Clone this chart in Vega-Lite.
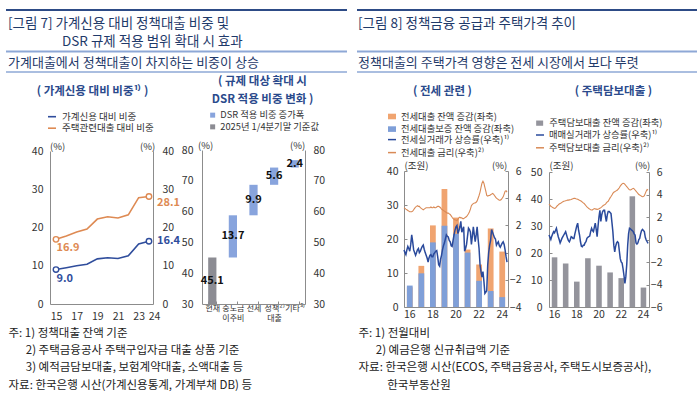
{
  "$schema": "https://vega.github.io/schema/vega-lite/v6.json",
  "background": "white",
  "padding": 0,
  "spacing": 0,
  "bounds": "flush",
  "resolve": {
    "scale": {"fill": "independent", "stroke": "independent", "color": "independent"},
    "legend": {"fill": "independent", "stroke": "independent", "color": "independent"}
  },
  "config": {
    "font": "Noto Sans CJK KR",
    "view": {"stroke": null},
    "axis": {"labelColor": "#333333", "domainColor": "#8c8c8c", "tickColor": "#8c8c8c", "grid": false, "labelFontSize": 10.5, "titleFontWeight": "normal", "titleColor": "#333333", "labelFlush": false},
    "legend": {"labelColor": "#333333", "padding": 0, "labelFontSize": 9.5, "rowPadding": 1.5, "labelOffset": 4, "titlePadding": 0}
  },
  "datasets": {
    "p1": [
      {"year": 2015, "series": "가계신용 대비 비중", "value": 9.0},
      {"year": 2016, "series": "가계신용 대비 비중", "value": 9.5},
      {"year": 2017, "series": "가계신용 대비 비중", "value": 10.0},
      {"year": 2018, "series": "가계신용 대비 비중", "value": 10.4},
      {"year": 2019, "series": "가계신용 대비 비중", "value": 11.8},
      {"year": 2020, "series": "가계신용 대비 비중", "value": 12.1},
      {"year": 2021, "series": "가계신용 대비 비중", "value": 11.9},
      {"year": 2022, "series": "가계신용 대비 비중", "value": 12.6},
      {"year": 2023, "series": "가계신용 대비 비중", "value": 15.7},
      {"year": 2024, "series": "가계신용 대비 비중", "value": 16.4},
      {"year": 2015, "series": "주택관련대출 대비 비중", "value": 16.9},
      {"year": 2016, "series": "주택관련대출 대비 비중", "value": 17.8},
      {"year": 2017, "series": "주택관련대출 대비 비중", "value": 18.8},
      {"year": 2018, "series": "주택관련대출 대비 비중", "value": 19.6},
      {"year": 2019, "series": "주택관련대출 대비 비중", "value": 22.2},
      {"year": 2020, "series": "주택관련대출 대비 비중", "value": 22.8},
      {"year": 2021, "series": "주택관련대출 대비 비중", "value": 22.5},
      {"year": 2022, "series": "주택관련대출 대비 비중", "value": 23.3},
      {"year": 2023, "series": "주택관련대출 대비 비중", "value": 27.8},
      {"year": 2024, "series": "주택관련대출 대비 비중", "value": 28.1}
    ],
    "p2": [
      {"cat": "현재", "kind": "2025년 1/4분기말 기준값", "start": 30, "end": 45.1, "delta": 45.1},
      {"cat": "중도금 이주비", "kind": "DSR 적용 비중 증가폭", "start": 45.1, "end": 58.8, "delta": 13.7},
      {"cat": "전세", "kind": "DSR 적용 비중 증가폭", "start": 58.8, "end": 68.7, "delta": 9.9},
      {"cat": "정책²⁾ 대출", "kind": "DSR 적용 비중 증가폭", "start": 68.7, "end": 74.3, "delta": 5.6},
      {"cat": "기타³⁾", "kind": "DSR 적용 비중 증가폭", "start": 74.3, "end": 76.7, "delta": 2.4}
    ],
    "p3bars": [
      {"year": 2016, "kind": "전세대출 잔액 증감(좌축)", "value": 5.8},
      {"year": 2017, "kind": "전세대출 잔액 증감(좌축)", "value": 12.1},
      {"year": 2018, "kind": "전세대출 잔액 증감(좌축)", "value": 24.0},
      {"year": 2019, "kind": "전세대출 잔액 증감(좌축)", "value": 34.7},
      {"year": 2020, "kind": "전세대출 잔액 증감(좌축)", "value": 26.3},
      {"year": 2021, "kind": "전세대출 잔액 증감(좌축)", "value": 16.9},
      {"year": 2022, "kind": "전세대출 잔액 증감(좌축)", "value": 12.5},
      {"year": 2023, "kind": "전세대출 잔액 증감(좌축)", "value": 23.1},
      {"year": 2024, "kind": "전세대출 잔액 증감(좌축)", "value": 16.3},
      {"year": 2016, "kind": "전세대출보증 잔액 증감(좌축)", "value": 6.3},
      {"year": 2017, "kind": "전세대출보증 잔액 증감(좌축)", "value": 9.9},
      {"year": 2018, "kind": "전세대출보증 잔액 증감(좌축)", "value": 19.0},
      {"year": 2019, "kind": "전세대출보증 잔액 증감(좌축)", "value": 23.9},
      {"year": 2020, "kind": "전세대출보증 잔액 증감(좌축)", "value": 21.5},
      {"year": 2021, "kind": "전세대출보증 잔액 증감(좌축)", "value": 16.0},
      {"year": 2022, "kind": "전세대출보증 잔액 증감(좌축)", "value": 7.7},
      {"year": 2023, "kind": "전세대출보증 잔액 증감(좌축)", "value": 4.7},
      {"year": 2024, "kind": "전세대출보증 잔액 증감(좌축)", "value": 2.9}
    ],
    "p4bars": [
      {"year": 2016, "kind": "주택담보대출 잔액 증감(좌축)", "value": 18.4},
      {"year": 2017, "kind": "주택담보대출 잔액 증감(좌축)", "value": 16.1},
      {"year": 2018, "kind": "주택담보대출 잔액 증감(좌축)", "value": 9.4},
      {"year": 2019, "kind": "주택담보대출 잔액 증감(좌축)", "value": 18.1},
      {"year": 2020, "kind": "주택담보대출 잔액 증감(좌축)", "value": 15.3},
      {"year": 2021, "kind": "주택담보대출 잔액 증감(좌축)", "value": 12.8},
      {"year": 2022, "kind": "주택담보대출 잔액 증감(좌축)", "value": 10.7},
      {"year": 2023, "kind": "주택담보대출 잔액 증감(좌축)", "value": 41.0},
      {"year": 2024, "kind": "주택담보대출 잔액 증감(좌축)", "value": 7.2}
    ],
    "p3lines": [
      {"d": "2016-01", "p": 0.2, "r": 3.3}, {"d": "2016-02", "p": 0.0, "r": 3.25}, {"d": "2016-03", "p": -0.15, "r": 3.2}, {"d": "2016-04", "p": 0.2, "r": 3.15}, {"d": "2016-05", "p": 0.45, "r": 3.1}, {"d": "2016-06", "p": 0.3, "r": 3.05}, {"d": "2016-07", "p": 0.1, "r": 3.0}, {"d": "2016-08", "p": 0.6, "r": 3.0}, {"d": "2016-09", "p": 1.3, "r": 3.0}, {"d": "2016-10", "p": 0.8, "r": 3.05}, {"d": "2016-11", "p": 0.2, "r": 3.15}, {"d": "2016-12", "p": 0.0, "r": 3.25},
      {"d": "2017-01", "p": -0.2, "r": 3.35}, {"d": "2017-02", "p": 0.0, "r": 3.4}, {"d": "2017-03", "p": 0.2, "r": 3.45}, {"d": "2017-04", "p": 0.3, "r": 3.4}, {"d": "2017-05", "p": 0.0, "r": 3.4}, {"d": "2017-06", "p": 0.1, "r": 3.3}, {"d": "2017-07", "p": 0.3, "r": 3.25}, {"d": "2017-08", "p": 0.45, "r": 3.2}, {"d": "2017-09", "p": 0.55, "r": 3.15}, {"d": "2017-10", "p": 0.25, "r": 3.2}, {"d": "2017-11", "p": 0.0, "r": 3.25}, {"d": "2017-12", "p": -0.2, "r": 3.3},
      {"d": "2018-01", "p": -0.4, "r": 3.3}, {"d": "2018-02", "p": -0.7, "r": 3.3}, {"d": "2018-03", "p": -0.4, "r": 3.3}, {"d": "2018-04", "p": -0.2, "r": 3.3}, {"d": "2018-05", "p": -0.15, "r": 3.35}, {"d": "2018-06", "p": -0.3, "r": 3.3}, {"d": "2018-07", "p": -0.3, "r": 3.3}, {"d": "2018-08", "p": -0.1, "r": 3.35}, {"d": "2018-09", "p": 0.0, "r": 3.3}, {"d": "2018-10", "p": 0.1, "r": 3.3}, {"d": "2018-11", "p": 0.15, "r": 3.35}, {"d": "2018-12", "p": -0.3, "r": 3.4},
      {"d": "2019-01", "p": -0.9, "r": 3.4}, {"d": "2019-02", "p": -1.0, "r": 3.35}, {"d": "2019-03", "p": -0.5, "r": 3.3}, {"d": "2019-04", "p": -0.2, "r": 3.2}, {"d": "2019-05", "p": 0.2, "r": 3.15}, {"d": "2019-06", "p": 0.5, "r": 3.1}, {"d": "2019-07", "p": 0.7, "r": 3.05}, {"d": "2019-08", "p": 1.0, "r": 3.0}, {"d": "2019-09", "p": 1.3, "r": 2.95}, {"d": "2019-10", "p": 1.2, "r": 2.9}, {"d": "2019-11", "p": 1.15, "r": 2.9}, {"d": "2019-12", "p": 0.9, "r": 2.85},
      {"d": "2020-01", "p": 0.8, "r": 2.8}, {"d": "2020-02", "p": 0.5, "r": 2.7}, {"d": "2020-03", "p": 0.45, "r": 2.6}, {"d": "2020-04", "p": 0.9, "r": 2.5}, {"d": "2020-05", "p": 1.3, "r": 2.45}, {"d": "2020-06", "p": 1.65, "r": 2.4}, {"d": "2020-07", "p": 1.9, "r": 2.4}, {"d": "2020-08", "p": 2.0, "r": 2.35}, {"d": "2020-09", "p": 1.4, "r": 2.45}, {"d": "2020-10", "p": 1.6, "r": 2.55}, {"d": "2020-11", "p": 1.9, "r": 2.6}, {"d": "2020-12", "p": 2.3, "r": 2.55},
      {"d": "2021-01", "p": 1.5, "r": 2.55}, {"d": "2021-02", "p": 1.7, "r": 2.5}, {"d": "2021-03", "p": 1.9, "r": 2.5}, {"d": "2021-04", "p": 0.1, "r": 2.55}, {"d": "2021-05", "p": 0.3, "r": 2.6}, {"d": "2021-06", "p": 0.6, "r": 2.65}, {"d": "2021-07", "p": 1.2, "r": 2.75}, {"d": "2021-08", "p": 1.8, "r": 2.85}, {"d": "2021-09", "p": 1.7, "r": 3.0}, {"d": "2021-10", "p": 1.5, "r": 3.2}, {"d": "2021-11", "p": 0.6, "r": 3.45}, {"d": "2021-12", "p": 1.2, "r": 3.55},
      {"d": "2022-01", "p": 1.9, "r": 3.6}, {"d": "2022-02", "p": 1.3, "r": 3.65}, {"d": "2022-03", "p": 0.8, "r": 3.65}, {"d": "2022-04", "p": 1.3, "r": 3.7}, {"d": "2022-05", "p": 1.9, "r": 3.8}, {"d": "2022-06", "p": 1.0, "r": 4.0}, {"d": "2022-07", "p": 0.3, "r": 4.2}, {"d": "2022-08", "p": -0.9, "r": 4.45}, {"d": "2022-09", "p": -1.4, "r": 4.8}, {"d": "2022-10", "p": -1.8, "r": 5.1}, {"d": "2022-11", "p": -1.4, "r": 5.25}, {"d": "2022-12", "p": -2.1, "r": 5.1},
      {"d": "2023-01", "p": -3.0, "r": 4.8}, {"d": "2023-02", "p": -2.9, "r": 4.5}, {"d": "2023-03", "p": -2.8, "r": 4.2}, {"d": "2023-04", "p": -0.9, "r": 4.15}, {"d": "2023-05", "p": 0.0, "r": 4.2}, {"d": "2023-06", "p": 0.55, "r": 4.2}, {"d": "2023-07", "p": 0.9, "r": 4.25}, {"d": "2023-08", "p": 1.7, "r": 4.3}, {"d": "2023-09", "p": 1.5, "r": 4.35}, {"d": "2023-10", "p": 1.3, "r": 4.3}, {"d": "2023-11", "p": 1.1, "r": 4.2}, {"d": "2023-12", "p": 1.0, "r": 4.1},
      {"d": "2024-01", "p": 0.55, "r": 4.0}, {"d": "2024-02", "p": 0.7, "r": 3.95}, {"d": "2024-03", "p": 0.8, "r": 3.9}, {"d": "2024-04", "p": 0.5, "r": 3.85}, {"d": "2024-05", "p": 0.4, "r": 3.85}, {"d": "2024-06", "p": 0.55, "r": 3.9}, {"d": "2024-07", "p": 0.7, "r": 4.0}, {"d": "2024-08", "p": 0.8, "r": 4.1}, {"d": "2024-09", "p": 0.6, "r": 4.3}, {"d": "2024-10", "p": 0.2, "r": 4.5}, {"d": "2024-11", "p": -0.3, "r": 4.55}, {"d": "2024-12", "p": -0.7, "r": 4.45}
    ],
    "p4lines": [
      {"d": "2016-01", "p": 0.4, "r": 3.15}, {"d": "2016-02", "p": 0.2, "r": 3.05}, {"d": "2016-03", "p": 0.0, "r": 2.95}, {"d": "2016-04", "p": 0.3, "r": 2.9}, {"d": "2016-05", "p": 0.5, "r": 2.85}, {"d": "2016-06", "p": 0.7, "r": 2.8}, {"d": "2016-07", "p": 0.6, "r": 2.77}, {"d": "2016-08", "p": 0.8, "r": 2.8}, {"d": "2016-09", "p": 1.0, "r": 2.9}, {"d": "2016-10", "p": 0.6, "r": 3.0}, {"d": "2016-11", "p": 0.25, "r": 3.07}, {"d": "2016-12", "p": 0.0, "r": 3.15},
      {"d": "2017-01", "p": -0.3, "r": 3.2}, {"d": "2017-02", "p": -0.1, "r": 3.25}, {"d": "2017-03", "p": 0.1, "r": 3.3}, {"d": "2017-04", "p": 0.25, "r": 3.35}, {"d": "2017-05", "p": 0.4, "r": 3.4}, {"d": "2017-06", "p": 0.55, "r": 3.42}, {"d": "2017-07", "p": 0.7, "r": 3.45}, {"d": "2017-08", "p": 0.4, "r": 3.47}, {"d": "2017-09", "p": 0.1, "r": 3.5}, {"d": "2017-10", "p": -0.1, "r": 3.5}, {"d": "2017-11", "p": -0.2, "r": 3.52}, {"d": "2017-12", "p": 0.0, "r": 3.54},
      {"d": "2018-01", "p": 0.25, "r": 3.55}, {"d": "2018-02", "p": 0.2, "r": 3.6}, {"d": "2018-03", "p": 0.1, "r": 3.63}, {"d": "2018-04", "p": 0.1, "r": 3.66}, {"d": "2018-05", "p": 0.5, "r": 3.66}, {"d": "2018-06", "p": 0.85, "r": 3.62}, {"d": "2018-07", "p": 1.2, "r": 3.6}, {"d": "2018-08", "p": 1.45, "r": 3.57}, {"d": "2018-09", "p": 0.8, "r": 3.53}, {"d": "2018-10", "p": 0.4, "r": 3.48}, {"d": "2018-11", "p": -0.2, "r": 3.45}, {"d": "2018-12", "p": -0.6, "r": 3.4},
      {"d": "2019-01", "p": -0.65, "r": 3.33}, {"d": "2019-02", "p": -0.5, "r": 3.25}, {"d": "2019-03", "p": -0.5, "r": 3.2}, {"d": "2019-04", "p": -0.3, "r": 3.1}, {"d": "2019-05", "p": -0.2, "r": 3.0}, {"d": "2019-06", "p": 0.1, "r": 2.9}, {"d": "2019-07", "p": 0.2, "r": 2.83}, {"d": "2019-08", "p": 0.25, "r": 2.75}, {"d": "2019-09", "p": 0.3, "r": 2.7}, {"d": "2019-10", "p": 0.7, "r": 2.65}, {"d": "2019-11", "p": 1.0, "r": 2.62}, {"d": "2019-12", "p": 0.8, "r": 2.63},
      {"d": "2020-01", "p": 0.7, "r": 2.7}, {"d": "2020-02", "p": 1.1, "r": 2.75}, {"d": "2020-03", "p": 1.45, "r": 2.72}, {"d": "2020-04", "p": 0.9, "r": 2.7}, {"d": "2020-05", "p": 0.25, "r": 2.68}, {"d": "2020-06", "p": 1.2, "r": 2.7}, {"d": "2020-07", "p": 2.0, "r": 2.73}, {"d": "2020-08", "p": 2.6, "r": 2.78}, {"d": "2020-09", "p": 1.6, "r": 2.83}, {"d": "2020-10", "p": 2.2, "r": 2.9}, {"d": "2020-11", "p": 2.5, "r": 2.98}, {"d": "2020-12", "p": 2.6, "r": 3.05},
      {"d": "2021-01", "p": 2.6, "r": 3.08}, {"d": "2021-02", "p": 2.0, "r": 3.15}, {"d": "2021-03", "p": 1.6, "r": 3.25}, {"d": "2021-04", "p": 2.2, "r": 3.35}, {"d": "2021-05", "p": 2.5, "r": 3.4}, {"d": "2021-06", "p": 2.5, "r": 3.55}, {"d": "2021-07", "p": 2.4, "r": 3.7}, {"d": "2021-08", "p": 2.3, "r": 3.82}, {"d": "2021-09", "p": 1.5, "r": 3.95}, {"d": "2021-10", "p": 0.7, "r": 4.1}, {"d": "2021-11", "p": -0.5, "r": 4.2}, {"d": "2021-12", "p": -1.1, "r": 4.25},
      {"d": "2022-01", "p": -0.6, "r": 4.3}, {"d": "2022-02", "p": -0.3, "r": 4.35}, {"d": "2022-03", "p": -0.2, "r": 4.4}, {"d": "2022-04", "p": -0.3, "r": 4.5}, {"d": "2022-05", "p": -1.0, "r": 4.6}, {"d": "2022-06", "p": -1.7, "r": 4.75}, {"d": "2022-07", "p": -2.0, "r": 4.85}, {"d": "2022-08", "p": -2.1, "r": 4.95}, {"d": "2022-09", "p": -2.6, "r": 5.0}, {"d": "2022-10", "p": -3.2, "r": 4.98}, {"d": "2022-11", "p": -3.9, "r": 4.9}, {"d": "2022-12", "p": -3.3, "r": 4.8},
      {"d": "2023-01", "p": -2.2, "r": 4.7}, {"d": "2023-02", "p": -0.5, "r": 4.6}, {"d": "2023-03", "p": 0.5, "r": 4.5}, {"d": "2023-04", "p": 1.0, "r": 4.42}, {"d": "2023-05", "p": 0.95, "r": 4.4}, {"d": "2023-06", "p": 0.85, "r": 4.45}, {"d": "2023-07", "p": 0.8, "r": 4.5}, {"d": "2023-08", "p": 0.7, "r": 4.55}, {"d": "2023-09", "p": 0.5, "r": 4.5}, {"d": "2023-10", "p": 0.4, "r": 4.4}, {"d": "2023-11", "p": -0.3, "r": 4.3}, {"d": "2023-12", "p": -0.4, "r": 4.2},
      {"d": "2024-01", "p": -0.3, "r": 4.1}, {"d": "2024-02", "p": 0.0, "r": 4.0}, {"d": "2024-03", "p": 0.1, "r": 3.95}, {"d": "2024-04", "p": 0.5, "r": 3.9}, {"d": "2024-05", "p": 0.8, "r": 3.85}, {"d": "2024-06", "p": 0.9, "r": 3.8}, {"d": "2024-07", "p": 0.8, "r": 3.82}, {"d": "2024-08", "p": 0.7, "r": 3.9}, {"d": "2024-09", "p": 0.2, "r": 4.1}, {"d": "2024-10", "p": -0.05, "r": 4.3}, {"d": "2024-11", "p": -0.2, "r": 4.45}, {"d": "2024-12", "p": -0.35, "r": 4.4}
    ]
  },
  "hconcat": [
    {
      "width": 175,
      "height": 394,
      "title": {
        "text": ["[그림 7] 가계신용 대비 정책대출 비중 및", "\u200b\u3000\u3000\u3000\u3000DSR 규제 적용 범위 확대 시 효과"],
        "subtitle": "가계대출에서 정책대출이 차지하는 비중이 상승",
        "anchor": "start", "frame": "group", "orient": "top", "offset": -70, "dx": 8,
        "fontSize": 13.5, "fontWeight": "normal", "lineHeight": 18, "color": "#1f3a6a",
        "subtitleFontSize": 13, "subtitleColor": "#1f3a6a", "subtitlePadding": 8.7, "subtitleFontWeight": "normal"
      },
      "layer": [
        {"data": {"values": [{}]}, "mark": {"type": "rule", "color": "#2d4b86", "strokeWidth": 2}, "encoding": {"y": {"value": 10}, "x": {"value": 6}, "x2": {"value": 175}}},
        {"data": {"values": [{}]}, "mark": {"type": "rule", "color": "#8ea8d6", "strokeWidth": 2}, "encoding": {"y": {"value": 51.5}, "x": {"value": 6}, "x2": {"value": 175}}},
        {"data": {"values": [{}]}, "mark": {"type": "rule", "color": "#8ea8d6", "strokeWidth": 1.5}, "encoding": {"y": {"value": 72}, "x": {"value": 6}, "x2": {"value": 175}}},
        {
          "data": {"name": "p1"},
          "mark": {"type": "line", "strokeWidth": 1.6},
          "encoding": {
            "x": {"field": "year", "type": "quantitative",
              "scale": {"domain": [2014.42, 2024.39], "range": [50, 153], "nice": false, "zero": false},
              "axis": {"orient": "bottom", "offset": -90, "values": [2015, 2017, 2019, 2021, 2023, 2024], "format": "d", "labelExpr": "slice(datum.label, 2)",
                "labelOffset": {"condition": {"test": "datum.value == 2024", "value": 5}, "value": 0},
                "ticks": false, "tickSize": 0, "labelPadding": 7, "labelFontSize": 10.5,
                "title": ["주: 1) 정책대출 잔액 기준", "\u200b\u3000\u20022) 주택금융공사 주택구입자금 대출 상품 기준", "\u200b\u3000\u20023) 예적금담보대출, 보험계약대출, 소액대출 등", "자료: 한국은행 시산(가계신용통계, 가계부채 DB) 등"],
                "titleX": 8, "titleY": 23, "titleAlign": "left", "titleAnchor": "start", "titleBaseline": "top", "titleFontSize": 11.5, "titleLineHeight": 17.4, "titleColor": "#222222"}},
            "y": {"field": "value", "type": "quantitative",
              "scale": {"domain": [0, 40], "range": [304, 151], "nice": false, "zero": false},
              "axis": {"orient": "left", "offset": -50, "values": [0, 10, 20, 30, 40], "ticks": false, "tickSize": 0, "labelPadding": 7,
                "title": "(%)", "titleAngle": 0, "titleX": 7, "titleY": 146, "titleAlign": "center", "titleBaseline": "middle", "titleFontSize": 9.5}},
            "stroke": {"field": "series", "type": "nominal",
              "scale": {"domain": ["가계신용 대비 비중", "주택관련대출 대비 비중"], "range": ["#2f4d9c", "#de8a53"]},
              "legend": {"orient": "none", "legendX": 47, "legendY": 111.7, "title": null, "symbolType": "stroke", "symbolSize": 64, "symbolStrokeWidth": 1.6, "labelFontSize": 9.5, "labelOffset": 5, "rowPadding": 1.5}}
          }
        },
        {
          "data": {"name": "p1"},
          "transform": [{"filter": "datum.year == 2015 || datum.year == 2024"}],
          "mark": {"type": "point", "shape": "circle", "size": 30, "strokeWidth": 1.4, "fill": "white", "filled": true, "opacity": 1},
          "encoding": {
            "x": {"field": "year", "type": "quantitative",
              "scale": {"domain": [2014.42, 2024.39], "range": [50, 153], "nice": false, "zero": false},
              "axis": {"orient": "top", "offset": 0, "domain": false, "ticks": false, "labels": false,
                "title": "( 가계신용 대비 비중¹⁾ )", "titleX": 92, "titleY": 85.3, "titleAlign": "center", "titleBaseline": "top",
                "titleFontSize": 11.5, "titleFontWeight": "bold", "titleColor": "#2a4a8c"}},
            "y": {"field": "value", "type": "quantitative",
              "scale": {"domain": [0, 40], "range": [304, 151], "nice": false, "zero": false},
              "axis": {"orient": "right", "offset": -22, "values": [0, 10, 20, 30, 40], "ticks": false, "tickSize": 0, "labelPadding": 9,
                "title": "(%)", "titleAngle": 0, "titleX": -6, "titleY": 146, "titleAlign": "center", "titleBaseline": "middle", "titleFontSize": 9.5}},
            "stroke": {"field": "series", "type": "nominal",
              "scale": {"domain": ["가계신용 대비 비중", "주택관련대출 대비 비중"], "range": ["#2f4d9c", "#de8a53"]},
              "legend": null}
          }
        },
        {
          "data": {"name": "p1"},
          "transform": [{"filter": "datum.year == 2015"}],
          "mark": {"type": "text", "align": "left", "baseline": "middle", "dx": 0.5, "dy": 9, "fontSize": 11, "fontWeight": "bold"},
          "encoding": {
            "x": {"field": "year", "type": "quantitative", "scale": {"domain": [2014.42, 2024.39], "range": [50, 153], "nice": false, "zero": false}, "axis": null},
            "y": {"field": "value", "type": "quantitative", "scale": {"domain": [0, 40], "range": [304, 151], "nice": false, "zero": false}, "axis": null},
            "text": {"field": "value", "type": "quantitative", "format": ".1f"},
            "color": {"field": "series", "type": "nominal", "scale": {"domain": ["가계신용 대비 비중", "주택관련대출 대비 비중"], "range": ["#2f4d9c", "#de8a53"]}, "legend": null}
          }
        },
        {
          "data": {"name": "p1"},
          "transform": [{"filter": "datum.year == 2024 && datum.series == '주택관련대출 대비 비중'"}],
          "mark": {"type": "text", "align": "left", "baseline": "middle", "dx": 8, "dy": 6, "fontSize": 11, "fontWeight": "bold"},
          "encoding": {
            "x": {"field": "year", "type": "quantitative", "scale": {"domain": [2014.42, 2024.39], "range": [50, 153], "nice": false, "zero": false}, "axis": null},
            "y": {"field": "value", "type": "quantitative", "scale": {"domain": [0, 40], "range": [304, 151], "nice": false, "zero": false}, "axis": null},
            "text": {"field": "value", "type": "quantitative", "format": ".1f"},
            "color": {"field": "series", "type": "nominal", "scale": {"domain": ["가계신용 대비 비중", "주택관련대출 대비 비중"], "range": ["#2f4d9c", "#de8a53"]}, "legend": null}
          }
        },
        {
          "data": {"name": "p1"},
          "transform": [{"filter": "datum.year == 2024 && datum.series == '가계신용 대비 비중'"}],
          "mark": {"type": "text", "align": "left", "baseline": "middle", "dx": 8, "dy": 0, "fontSize": 11, "fontWeight": "bold"},
          "encoding": {
            "x": {"field": "year", "type": "quantitative", "scale": {"domain": [2014.42, 2024.39], "range": [50, 153], "nice": false, "zero": false}, "axis": null},
            "y": {"field": "value", "type": "quantitative", "scale": {"domain": [0, 40], "range": [304, 151], "nice": false, "zero": false}, "axis": null},
            "text": {"field": "value", "type": "quantitative", "format": ".1f"},
            "color": {"field": "series", "type": "nominal", "scale": {"domain": ["가계신용 대비 비중", "주택관련대출 대비 비중"], "range": ["#2f4d9c", "#de8a53"]}, "legend": null}
          }
        }
      ],
      "resolve": {"scale": {"y": "independent"}, "axis": {"x": "independent"}}
    },
    {
      "width": 175,
      "height": 394,
      "layer": [
        {"data": {"values": [{}]}, "mark": {"type": "rule", "color": "#2d4b86", "strokeWidth": 2}, "encoding": {"y": {"value": 10}, "x": {"value": 0}, "x2": {"value": 172}}},
        {"data": {"values": [{}]}, "mark": {"type": "rule", "color": "#8ea8d6", "strokeWidth": 2}, "encoding": {"y": {"value": 51.5}, "x": {"value": 0}, "x2": {"value": 172}}},
        {"data": {"values": [{}]}, "mark": {"type": "rule", "color": "#8ea8d6", "strokeWidth": 1.5}, "encoding": {"y": {"value": 72}, "x": {"value": 0}, "x2": {"value": 172}}},
        {
          "data": {"name": "p2"},
          "mark": {"type": "bar"},
          "encoding": {
            "x": {"field": "cat", "type": "nominal",
              "scale": {"domain": ["현재", "중도금 이주비", "전세", "정책²⁾ 대출", "기타³⁾"], "range": [27, 130], "paddingInner": 0.6, "paddingOuter": 0.3},
              "axis": {"orient": "bottom", "offset": -90, "title": null, "labelAngle": 0, "labelExpr": "split(datum.label, ' ')", "labelFontSize": 8, "labelLineHeight": 10,
                "labelPadding": 3, "labelBaseline": "top", "tickBand": "extent", "ticks": true, "tickSize": -3}},
            "y": {"field": "start", "type": "quantitative",
              "scale": {"domain": [30, 80], "range": [304, 150], "nice": false, "zero": false},
              "axis": {"orient": "left", "offset": -27, "values": [30, 40, 50, 60, 70, 80], "ticks": false, "tickSize": 0, "labelPadding": 9,
                "title": "(%)", "titleAngle": 0, "titleX": 3, "titleY": 145, "titleAlign": "center", "titleBaseline": "middle", "titleFontSize": 9.5}},
            "y2": {"field": "end"},
            "fill": {"field": "kind", "type": "nominal",
              "scale": {"domain": ["DSR 적용 비중 증가폭", "2025년 1/4분기말 기준값"], "range": ["#88a4dd", "#8c8c93"]},
              "legend": {"orient": "none", "legendX": 33, "legendY": 110.5, "title": null, "symbolType": "square", "symbolSize": 25, "labelFontSize": 9.3, "labelOffset": 3, "rowPadding": 1.7}}
          }
        },
        {
          "data": {"name": "p2"},
          "transform": [
            {"fold": ["start", "end"], "as": ["edge", "v"]},
            {"aggregate": [{"op": "mean", "field": "v", "as": "mid"}], "groupby": ["cat", "delta"]}
          ],
          "mark": {"type": "text", "fontSize": 11, "fontWeight": "bold", "color": "#111111", "baseline": "middle"},
          "encoding": {
            "x": {"field": "cat", "type": "nominal",
              "scale": {"domain": ["현재", "중도금 이주비", "전세", "정책²⁾ 대출", "기타³⁾"], "range": [27, 130], "paddingInner": 0.6, "paddingOuter": 0.3},
              "axis": {"orient": "top", "offset": 0, "domain": false, "ticks": false, "labels": false,
                "title": ["( 규제 대상 확대 시", "DSR 적용 비중 변화 )"], "titleX": 87, "titleY": 75.3, "titleAlign": "center", "titleBaseline": "top", "titleLineHeight": 18,
                "titleFontSize": 11.5, "titleFontWeight": "bold", "titleColor": "#2a4a8c"}},
            "y": {"field": "mid", "type": "quantitative",
              "scale": {"domain": [30, 80], "range": [304, 150], "nice": false, "zero": false},
              "axis": {"orient": "right", "offset": -45, "values": [30, 40, 50, 60, 70, 80], "ticks": false, "tickSize": 0, "labelPadding": 8,
                "title": "(%)", "titleAngle": 0, "titleX": -8, "titleY": 145, "titleAlign": "center", "titleBaseline": "middle", "titleFontSize": 9.5}},
            "text": {"field": "delta", "type": "quantitative", "format": ".1f"}
          }
        }
      ],
      "resolve": {"scale": {"y": "independent"}, "axis": {"x": "independent"}}
    },
    {
      "width": 175,
      "height": 394,
      "title": {
        "text": "[그림 8] 정책금융 공급과 주택가격 추이",
        "subtitle": "정책대출의 주택가격 영향은 전세 시장에서 보다 뚜렷",
        "anchor": "start", "frame": "group", "orient": "top", "offset": -70, "dx": 8,
        "fontSize": 13.5, "fontWeight": "normal", "lineHeight": 18, "color": "#1f3a6a",
        "subtitleFontSize": 13, "subtitleColor": "#1f3a6a", "subtitlePadding": 26.7, "subtitleFontWeight": "normal"
      },
      "layer": [
        {"data": {"values": [{}]}, "mark": {"type": "rule", "color": "#2d4b86", "strokeWidth": 2}, "encoding": {"y": {"value": 10}, "x": {"value": 7}, "x2": {"value": 175}}},
        {"data": {"values": [{}]}, "mark": {"type": "rule", "color": "#8ea8d6", "strokeWidth": 2}, "encoding": {"y": {"value": 51.5}, "x": {"value": 7}, "x2": {"value": 175}}},
        {"data": {"values": [{}]}, "mark": {"type": "rule", "color": "#8ea8d6", "strokeWidth": 1.5}, "encoding": {"y": {"value": 72}, "x": {"value": 7}, "x2": {"value": 175}}},
        {
          "data": {"name": "p3bars"},
          "mark": {"type": "bar"},
          "encoding": {
            "x": {"field": "year", "type": "ordinal",
              "scale": {"range": [54, 158], "paddingInner": 0.5, "paddingOuter": 0.25},
              "axis": {"orient": "bottom", "offset": -87, "values": [2016, 2018, 2020, 2022, 2024], "labelExpr": "slice(datum.label, 2)", "labelAngle": 0,
                "ticks": false, "tickSize": 0, "labelPadding": 2, "labelFontSize": 10.5,
                "title": ["주: 1) 전월대비", "\u200b\u3000\u20022) 예금은행 신규취급액 기준", "자료: 한국은행 시산(ECOS, 주택금융공사, 주택도시보증공사),", "\u200b\u3000\u3000\u2002한국부동산원"],
                "titleX": 8, "titleY": 20, "titleAlign": "left", "titleAnchor": "start", "titleBaseline": "top", "titleFontSize": 11.5, "titleLineHeight": 17.4, "titleColor": "#222222"}},
            "y": {"field": "value", "type": "quantitative", "stack": null,
              "scale": {"domain": [0, 40], "range": [307, 171], "nice": false, "zero": false},
              "axis": {"orient": "left", "offset": -54, "values": [0, 10, 20, 30, 40], "tickSize": -3, "labelPadding": 9,
                "title": "(조원)", "titleAngle": 0, "titleX": 12, "titleY": 165, "titleAlign": "center", "titleBaseline": "middle", "titleFontSize": 9.5}},
            "fill": {"field": "kind", "type": "nominal",
              "scale": {"domain": ["전세대출 잔액 증감(좌축)", "전세대출보증 잔액 증감(좌축)"], "range": ["#f0a470", "#7f9fd8"]},
              "legend": {"orient": "none", "legendX": 37, "legendY": 111.5, "title": null, "symbolType": "M-1,-0.7H1V0.7H-1Z", "symbolSize": 64, "labelFontSize": 9.3, "labelOffset": 4, "rowPadding": 1.6}}
          }
        },
        {
          "data": {"name": "p3lines"},
          "mark": {"type": "line", "strokeWidth": 1.1},
          "encoding": {
            "x": {"field": "d", "type": "temporal",
              "scale": {"domain": [{"year": 2016, "month": 1, "date": 1, "utc": true}, {"year": 2025, "month": 1, "date": 1, "utc": true}], "range": [54, 158], "nice": false},
              "axis": {"orient": "top", "offset": 0, "domain": false, "ticks": false, "labels": false,
                "title": "( 전세 관련 )", "titleX": 92, "titleY": 85.3, "titleAlign": "center", "titleBaseline": "top",
                "titleFontSize": 11.5, "titleFontWeight": "bold", "titleColor": "#2a4a8c"}},
            "y": {"field": "r", "type": "quantitative",
              "scale": {"domain": [-4, 6], "range": [307, 171], "nice": false, "zero": false},
              "axis": {"orient": "right", "offset": -17, "values": [-4, -2, 0, 2, 4, 6], "tickSize": -3, "labelPadding": 16, "labelAlign": "right",
                "title": "(%)", "titleAngle": 0, "titleX": -9, "titleY": 165, "titleAlign": "center", "titleBaseline": "middle", "titleFontSize": 9.5}},
            "stroke": {"datum": "전세대출 금리(우축)²⁾", "type": "nominal",
              "scale": {"domain": ["전세실거래가 상승률(우축)¹⁾", "전세대출 금리(우축)²⁾"], "range": ["#2a4a9c", "#d98a56"]},
              "legend": {"orient": "none", "legendX": 37, "legendY": 134.6, "title": null, "symbolType": "stroke", "symbolSize": 64, "symbolStrokeWidth": 1.5, "labelFontSize": 9.3, "labelOffset": 4, "rowPadding": 2.0}}
          }
        },
        {
          "data": {"name": "p3lines"},
          "mark": {"type": "line", "strokeWidth": 1.5},
          "encoding": {
            "x": {"field": "d", "type": "temporal",
              "scale": {"domain": [{"year": 2016, "month": 1, "date": 1, "utc": true}, {"year": 2025, "month": 1, "date": 1, "utc": true}], "range": [54, 158], "nice": false},
              "axis": null},
            "y": {"field": "p", "type": "quantitative",
              "scale": {"domain": [-4, 6], "range": [307, 171], "nice": false, "zero": false}, "axis": null},
            "stroke": {"datum": "전세실거래가 상승률(우축)¹⁾", "type": "nominal",
              "scale": {"domain": ["전세실거래가 상승률(우축)¹⁾", "전세대출 금리(우축)²⁾"], "range": ["#2a4a9c", "#d98a56"]},
              "legend": {"orient": "none", "legendX": 37, "legendY": 134.6, "title": null, "symbolType": "stroke", "symbolSize": 64, "symbolStrokeWidth": 1.5, "labelFontSize": 9.3, "labelOffset": 4, "rowPadding": 2.0}}
          }
        }
      ],
      "resolve": {"scale": {"x": "independent", "y": "independent"}}
    },
    {
      "width": 175,
      "height": 394,
      "layer": [
        {"data": {"values": [{}]}, "mark": {"type": "rule", "color": "#2d4b86", "strokeWidth": 2}, "encoding": {"y": {"value": 10}, "x": {"value": 0}, "x2": {"value": 172}}},
        {"data": {"values": [{}]}, "mark": {"type": "rule", "color": "#8ea8d6", "strokeWidth": 2}, "encoding": {"y": {"value": 51.5}, "x": {"value": 0}, "x2": {"value": 172}}},
        {"data": {"values": [{}]}, "mark": {"type": "rule", "color": "#8ea8d6", "strokeWidth": 1.5}, "encoding": {"y": {"value": 72}, "x": {"value": 0}, "x2": {"value": 172}}},
        {
          "data": {"name": "p4bars"},
          "mark": {"type": "bar"},
          "encoding": {
            "x": {"field": "year", "type": "ordinal",
              "scale": {"range": [24, 124], "paddingInner": 0.5, "paddingOuter": 0.25},
              "axis": {"orient": "bottom", "offset": -87, "values": [2016, 2018, 2020, 2022, 2024], "labelExpr": "slice(datum.label, 2)", "labelAngle": 0,
                "ticks": false, "tickSize": 0, "labelPadding": 2, "labelFontSize": 10.5, "title": null}},
            "y": {"field": "value", "type": "quantitative",
              "scale": {"domain": [0, 50], "range": [307, 172], "nice": false, "zero": false},
              "axis": {"orient": "left", "offset": -24, "values": [0, 10, 20, 30, 40, 50], "tickSize": -3, "labelPadding": 10,
                "title": "(조원)", "titleAngle": 0, "titleX": 12, "titleY": 165, "titleAlign": "center", "titleBaseline": "middle", "titleFontSize": 9.5}},
            "fill": {"field": "kind", "type": "nominal",
              "scale": {"domain": ["주택담보대출 잔액 증감(좌축)"], "range": ["#94949c"]},
              "legend": {"orient": "none", "legendX": 10, "legendY": 118.5, "title": null, "symbolType": "M-1,-0.75H1V0.75H-1Z", "symbolSize": 49, "labelFontSize": 9.3, "labelOffset": 5, "rowPadding": 1.6}}
          }
        },
        {
          "data": {"name": "p4lines"},
          "mark": {"type": "line", "strokeWidth": 1.1},
          "encoding": {
            "x": {"field": "d", "type": "temporal",
              "scale": {"domain": [{"year": 2016, "month": 1, "date": 1, "utc": true}, {"year": 2025, "month": 1, "date": 1, "utc": true}], "range": [24, 124], "nice": false},
              "axis": {"orient": "top", "offset": 0, "domain": false, "ticks": false, "labels": false,
                "title": "( 주택담보대출 )", "titleX": 88, "titleY": 85.3, "titleAlign": "center", "titleBaseline": "top",
                "titleFontSize": 11.5, "titleFontWeight": "bold", "titleColor": "#2a4a8c"}},
            "y": {"field": "r", "type": "quantitative",
              "scale": {"domain": [-6, 6], "range": [307, 172], "nice": false, "zero": false},
              "axis": {"orient": "right", "offset": -51, "values": [-6, -4, -2, 0, 2, 4, 6], "tickSize": -3, "labelPadding": 16, "labelAlign": "right",
                "title": "(%)", "titleAngle": 0, "titleX": -7, "titleY": 165, "titleAlign": "center", "titleBaseline": "middle", "titleFontSize": 9.5}},
            "stroke": {"datum": "주택담보대출 금리(우축)²⁾", "type": "nominal",
              "scale": {"domain": ["매매실거래가 상승률(우축)¹⁾", "주택담보대출 금리(우축)²⁾"], "range": ["#2a4a9c", "#d98a56"]},
              "legend": {"orient": "none", "legendX": 10, "legendY": 130, "title": null, "symbolType": "stroke", "symbolSize": 64, "symbolStrokeWidth": 1.5, "labelFontSize": 9.3, "labelOffset": 4, "rowPadding": 1.8}}
          }
        },
        {
          "data": {"name": "p4lines"},
          "mark": {"type": "line", "strokeWidth": 1.5},
          "encoding": {
            "x": {"field": "d", "type": "temporal",
              "scale": {"domain": [{"year": 2016, "month": 1, "date": 1, "utc": true}, {"year": 2025, "month": 1, "date": 1, "utc": true}], "range": [24, 124], "nice": false},
              "axis": null},
            "y": {"field": "p", "type": "quantitative",
              "scale": {"domain": [-6, 6], "range": [307, 172], "nice": false, "zero": false}, "axis": null},
            "stroke": {"datum": "매매실거래가 상승률(우축)¹⁾", "type": "nominal",
              "scale": {"domain": ["매매실거래가 상승률(우축)¹⁾", "주택담보대출 금리(우축)²⁾"], "range": ["#2a4a9c", "#d98a56"]},
              "legend": {"orient": "none", "legendX": 10, "legendY": 130, "title": null, "symbolType": "stroke", "symbolSize": 64, "symbolStrokeWidth": 1.5, "labelFontSize": 9.3, "labelOffset": 4, "rowPadding": 1.8}}
          }
        }
      ],
      "resolve": {"scale": {"x": "independent", "y": "independent"}}
    }
  ]
}
